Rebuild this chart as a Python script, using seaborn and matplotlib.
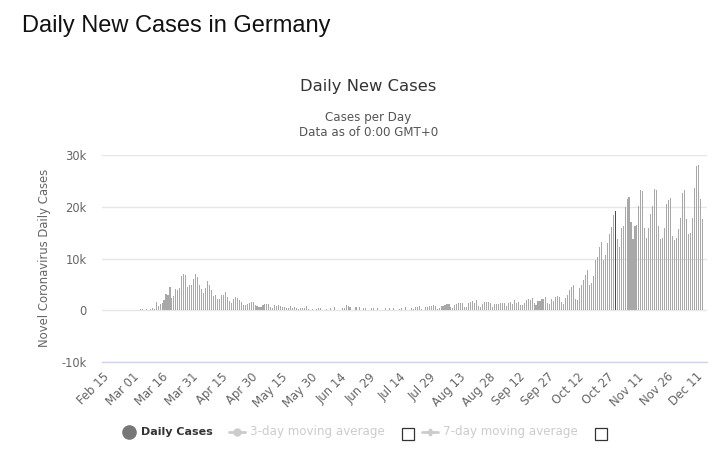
import numpy as np
import pandas as pd
import matplotlib
matplotlib.use("Agg")
import matplotlib.pyplot as plt
from matplotlib.lines import Line2D
from matplotlib.patches import Rectangle
import seaborn as sns

# ---------------- data (daily new cases, Feb 15 - Dec 14) ----------------
feb = [0, 0, 0, 0, 0, 0, 0, 0, 0, 0, 2, 6, 18, 10, 13]
mar = [57, 29, 37, 66, 220, 188, 129, 241, 136, 281, 451, 170, 1597, 910, 1210,
       1477, 1985, 3070, 2993, 4528, 2365, 2660, 4183, 3930, 4337, 6615, 6933,
       6824, 4400, 4790, 4923]
apr = [6064, 6922, 6365, 4933, 4031, 3251, 4289, 5633, 4885, 3990, 2737, 2946,
       2218, 2100, 2900, 2900, 3600, 2642, 1775, 1497, 2256, 2477, 2314, 1980,
       1514, 1045, 1060, 1285, 1430, 1606]
may = [1639, 945, 793, 679, 685, 947, 1284, 1209, 1251, 667, 357, 933, 798, 933,
       913, 620, 583, 342, 513, 797, 460, 638, 431, 289, 350, 432, 353, 741, 300,
       0, 300]
jun = [0, 213, 342, 394, 0, 0, 301, 0, 348, 0, 555, 0, 0, 0, 378, 350, 1070, 770,
       601, 0, 0, 537, 0, 630, 0, 480, 470, 0, 0, 466]
jul = [503, 0, 446, 0, 0, 0, 397, 0, 442, 0, 378, 0, 0, 159, 351, 0, 534,
       0, 0, 454, 210, 587, 569, 781, 305, 0, 633, 684, 902, 870, 955]
aug = [750, 240, 509, 879, 741, 1045, 1147, 1122, 555, 436, 966, 1226, 1445,
       1449, 1415, 625, 561, 1390, 1510, 1707, 1427, 2034, 782, 711, 1278, 1576,
       1507, 1571, 1479, 610, 1218]
sep = [1256, 1226, 1311, 1453, 1378, 814, 1356, 1499, 1176, 1892, 1484, 1630,
       1000, 927, 1407, 1901, 2194, 1916, 2297, 1345, 922, 1821, 1769, 2143, 2153,
       2507, 1411, 1192, 2089, 1798]
oct_ = [2503, 2673, 2600, 1600, 1300, 2300, 2900, 4000, 4400, 4800, 2200, 1900,
        4300, 4800, 5900, 6800, 7700, 4800, 5200, 6600, 9800, 10300, 12300, 13200,
        9700, 10600, 12900, 14800, 16000, 18400, 19200]
nov = [13700, 12300, 15900, 16300, 19900, 21500, 21800, 17000, 13700, 16300,
       16500, 20200, 23200, 23000, 15900, 13900, 15900, 18600, 20200, 23400,
       23200, 16300, 13700, 13900, 15900, 20500, 21300, 21700, 14400, 13500]
dec = [13900, 15700, 17900, 22600, 23200, 17600, 14700, 15000, 17900, 23600,
       27900, 28100, 21500, 17600]

daily_cases = feb + mar + apr + may + jun + jul + aug + sep + oct_ + nov + dec
dates = pd.date_range("2020-02-15", "2020-12-14", freq="D")
highlight_date = "2020-10-31"

tick_labels = ["Feb 15", "Mar 01", "Mar 16", "Mar 31", "Apr 15", "Apr 30",
               "May 15", "May 30", "Jun 14", "Jun 29", "Jul 14", "Jul 29",
               "Aug 13", "Aug 28", "Sep 12", "Sep 27", "Oct 12", "Oct 27",
               "Nov 11", "Nov 26", "Dec 11"]
y_ticks = [-10000, 0, 10000, 20000, 30000]
y_tick_labels = ["-10k", "0", "10k", "20k", "30k"]

df = pd.DataFrame({"date": dates, "cases": daily_cases})
df["day"] = np.arange(len(df))

# ---------------- figure ----------------
W, H = 720, 468
fig = plt.figure(figsize=(W / 100, H / 100), dpi=100)
sns.set_style("white")
plt.rcParams["font.family"] = ["DejaVu Sans"]


def fx(px):
    return px / W


def fy(py):
    return 1 - py / H


ax = fig.add_axes([fx(102), fy(362), fx(707) - fx(102), fy(155) - fy(362)])

sns.barplot(data=df, x="day", y="cases", native_scale=True, color="#a8a8a8",
            saturation=1, width=0.55, linewidth=0, ax=ax, zorder=3)
hl = int(df.index[df["date"] == pd.Timestamp(highlight_date)][0])
for i, p in enumerate(ax.patches):
    if i == hl:
        p.set_facecolor("#4a4a4a")
        p.set_width(0.45)

ax.set_xlim(-0.35, 305.4)
ax.set_ylim(-10000, 30000)
ax.set_yticks(y_ticks)
ax.set_yticklabels(y_tick_labels)
ax.grid(axis="y", color="#e6e6e6", linewidth=1, zorder=0)
ax.grid(axis="x", visible=False)
for s in ["top", "right", "left"]:
    ax.spines[s].set_visible(False)
ax.spines["bottom"].set_color("#ccd6eb")
ax.spines["bottom"].set_linewidth(1)
ax.spines["bottom"].set_position(("data", -10000))

ax.set_xticks(np.arange(0, len(df), 15))
ax.set_xticklabels(tick_labels, rotation=45, ha="right", rotation_mode="anchor")
ax.tick_params(axis="x", length=0, pad=6, labelsize=8.4, labelcolor="#666666")
ax.tick_params(axis="y", length=0, pad=11, labelsize=8.3, labelcolor="#666666")
ax.set_xlabel("")
ax.set_ylabel("")

# ---------------- texts ----------------
fig.text(fx(22), fy(26), "Daily New Cases in Germany", fontsize=17,
         family=["Liberation Sans", "DejaVu Sans"], color="#111111",
         ha="left", va="center")
fig.text(fx(368.5), fy(87), "Daily New Cases", fontsize=11.8,
         color="#333333", ha="center", va="center")
fig.text(fx(368.5), fy(117), "Cases per Day", fontsize=8.6,
         color="#555555", ha="center", va="center")
fig.text(fx(368.5), fy(132), "Data as of 0:00 GMT+0", fontsize=8.6,
         color="#555555", ha="center", va="center")
fig.text(fx(45), fy(258), "Novel Coronavirus Daily Cases", fontsize=8.4,
         color="#666666", rotation=90, ha="center", va="center")

# ---------------- legend ----------------
ly = fy(432)
fig.add_artist(Line2D([fx(129)], [ly], marker="o", markersize=9.5,
                      color="#777777", linestyle="none"))
fig.text(fx(141), ly, "Daily Cases", fontsize=8.0, fontweight="bold",
         color="#333333", ha="left", va="center")

fig.add_artist(Line2D([fx(229), fx(245)], [ly, ly], color="#cccccc", lw=2))
fig.add_artist(Line2D([fx(237)], [ly], marker="o", markersize=5,
                      color="#cccccc", linestyle="none"))
fig.text(fx(250), ly, "3-day moving average", fontsize=8.6, color="#cccccc",
         ha="left", va="center")
fig.add_artist(Rectangle((fx(402), fy(440)), fx(12), fy(428) - fy(440),
                         facecolor="white", edgecolor="#333333", lw=0.9))

fig.add_artist(Line2D([fx(422), fx(438)], [ly, ly], color="#cccccc", lw=2))
fig.add_artist(Line2D([fx(430)], [ly], marker="P", markersize=5,
                      color="#cccccc", linestyle="none"))
fig.text(fx(443), ly, "7-day moving average", fontsize=8.6, color="#cccccc",
         ha="left", va="center")
fig.add_artist(Rectangle((fx(595), fy(440)), fx(12), fy(428) - fy(440),
                         facecolor="white", edgecolor="#333333", lw=0.9))

fig.savefig("out.png", dpi=100, facecolor="white")
